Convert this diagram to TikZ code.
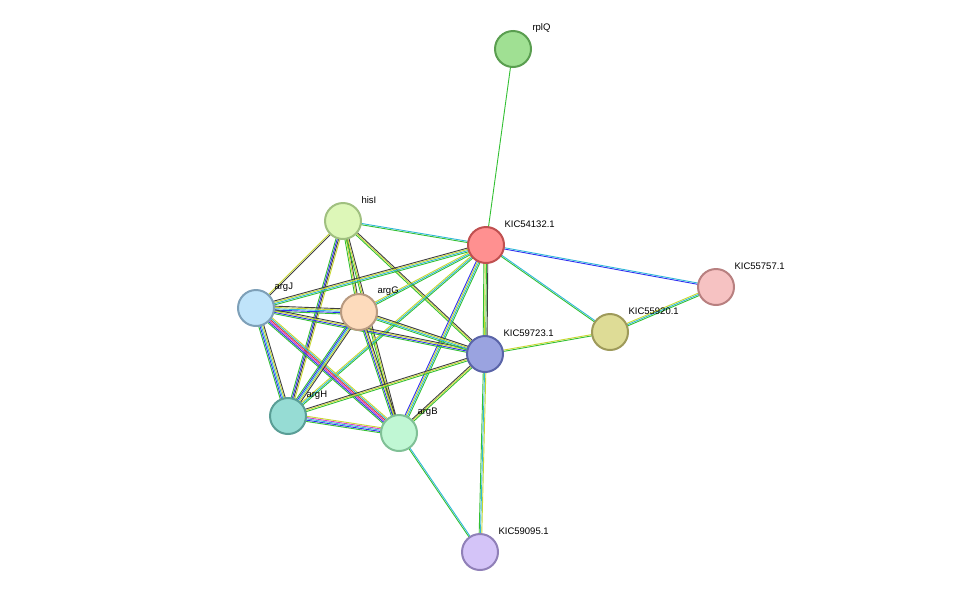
\documentclass[tikz,border=0pt]{standalone}
\usepackage{fontspec}
\setmainfont{Liberation Sans}
\usetikzlibrary{calc}
\definecolor{eg}{HTML}{33C033}
\definecolor{eb}{HTML}{3030F0}
\definecolor{ec}{HTML}{30B8D8}
\definecolor{ey}{HTML}{C8D830}
\definecolor{ek}{HTML}{404040}
\definecolor{em}{HTML}{D040C8}
\definecolor{er}{HTML}{E03030}
\newcommand\medge[3]{%
 \foreach \c [count=\i] in {#3} {\xdef\nn{\i}}
 \foreach \c [count=\i] in {#3} {\pgfmathsetmacro\o{(\i-(\nn+1)/2)*1.3}
   \draw[\c,line width=0.9pt] ($(#1)!\o pt!90:(#2)$) -- ($(#2)!\o pt!-90:(#1)$);}}
\tikzset{prot/.style={circle,minimum size=36pt,inner sep=0pt,line width=2pt},
 lab/.style={anchor=west,font=\fontsize{9.5}{11}\selectfont}}
\begin{document}
\begin{tikzpicture}[x=1pt,y=-1pt]
\useasboundingbox (0,0) rectangle (976,598);
\coordinate (rplQ) at (513,49);
\coordinate (k1) at (486,245);
\coordinate (hisI) at (343,221);
\coordinate (argJ) at (256,308);
\coordinate (argG) at (359,312);
\coordinate (k2) at (485,354);
\coordinate (k3) at (610,332);
\coordinate (k4) at (716,287);
\coordinate (argH) at (288,416);
\coordinate (argB) at (399,433);
\coordinate (k5) at (480,552);
\medge{rplQ}{k1}{eg}
\medge{k1}{k4}{eb,ec}
\medge{k1}{k3}{eg,ec}
\medge{k3}{k4}{eg,ec,ey}
\medge{k2}{k3}{eg,ey}
\medge{k1}{k2}{eg,ey,eg,ek}
\medge{k2}{k5}{eg,ec,ey}
\medge{argB}{k5}{eg,ec}
\medge{hisI}{k1}{eg,ec}
\medge{hisI}{argJ}{ey,ek}
\medge{hisI}{argG}{eg,ey,ek}
\medge{hisI}{argH}{eg,eb,ek,ey}
\medge{hisI}{argB}{eg,ey,ek}
\medge{hisI}{k2}{eg,ey,ek}
\medge{argJ}{k1}{eg,ec,ey,ek}
\medge{argG}{k1}{eg,ec,ey}
\medge{argH}{k1}{eg,ec,ey}
\medge{argB}{k1}{eg,ec,ey,eb}
\medge{argJ}{argG}{eg,eb,ec,ey,ek}
\medge{argJ}{k2}{eg,eb,ey,ek}
\medge{argJ}{argH}{eg,eb,ec,ey,ek}
\medge{argJ}{argB}{eg,eb,em,er,ec,ey}
\medge{argG}{k2}{eg,ec,ey,ek}
\medge{argG}{argH}{eg,eb,ec,ey,ek}
\medge{argG}{argB}{eg,eb,ey,ek}
\medge{argH}{k2}{eg,ey,ek}
\medge{argB}{k2}{eg,ey,ek}
\medge{argH}{argB}{eg,eb,ec,em,ey}
\node[prot,fill={rgb,255:red,160;green,224;blue,147},draw={rgb,255:red,90;green,158;blue,80}] (n1) at (rplQ) {};
\node[prot,fill={rgb,255:red,255;green,144;blue,144},draw={rgb,255:red,192;green,80;blue,80}] (n2) at (k1) {};
\node[prot,fill={rgb,255:red,221;green,247;blue,184},draw={rgb,255:red,160;green,192;blue,128}] (n3) at (hisI) {};
\node[prot,fill={rgb,255:red,192;green,228;blue,250},draw={rgb,255:red,126;green,160;blue,184}] (n4) at (argJ) {};
\node[prot,fill={rgb,255:red,253;green,219;blue,188},draw={rgb,255:red,184;green,154;blue,128}] (n5) at (argG) {};
\node[prot,fill={rgb,255:red,154;green,163;blue,224},draw={rgb,255:red,90;green,100;blue,168}] (n6) at (k2) {};
\node[prot,fill={rgb,255:red,222;green,220;blue,150},draw={rgb,255:red,158;green,154;blue,90}] (n7) at (k3) {};
\node[prot,fill={rgb,255:red,246;green,194;blue,194},draw={rgb,255:red,184;green,128;blue,128}] (n8) at (k4) {};
\node[prot,fill={rgb,255:red,150;green,220;blue,212},draw={rgb,255:red,90;green,158;blue,150}] (n9) at (argH) {};
\node[prot,fill={rgb,255:red,192;green,247;blue,212},draw={rgb,255:red,128;green,192;blue,150}] (n10) at (argB) {};
\node[prot,fill={rgb,255:red,212;green,196;blue,248},draw={rgb,255:red,144;green,128;blue,184}] (n11) at (k5) {};
\node[lab] (l1) at ($(rplQ)+(16,-21)$) {rplQ};
\node[lab] (l2) at ($(k1)+(15,-21)$) {KIC54132.1};
\node[lab] (l3) at ($(hisI)+(15,-21)$) {hisI};
\node[lab] (l4) at ($(argJ)+(15,-21)$) {argJ};
\node[lab] (l5) at ($(argG)+(15,-21)$) {argG};
\node[lab] (l6) at ($(k2)+(15,-21)$) {KIC59723.1};
\node[lab] (l7) at ($(k3)+(15,-21)$) {KIC55920.1};
\node[lab] (l8) at ($(k4)+(15,-21)$) {KIC55757.1};
\node[lab] (l9) at ($(argH)+(15,-21)$) {argH};
\node[lab] (l10) at ($(argB)+(15,-21)$) {argB};
\node[lab] (l11) at ($(k5)+(15,-21)$) {KIC59095.1};
\end{tikzpicture}
\end{document}
